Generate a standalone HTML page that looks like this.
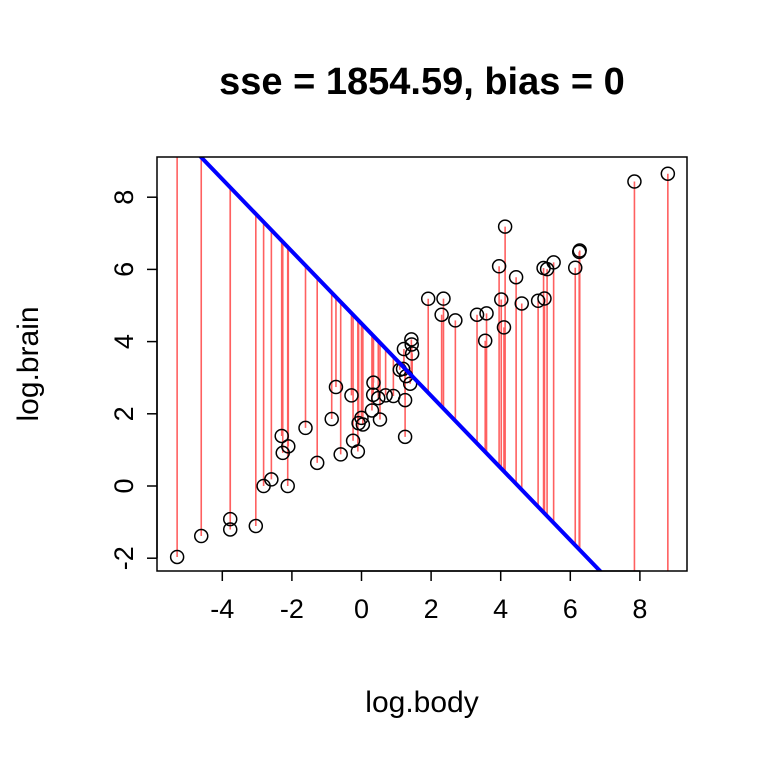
<!DOCTYPE html>
<html><head><meta charset="utf-8"><style>body{margin:0;background:#fff}svg{display:block}</style></head>
<body>
<svg id="c" width="768" height="768" xmlns="http://www.w3.org/2000/svg" font-family="Liberation Sans, sans-serif">
<defs><clipPath id="pc"><rect x="157" y="157" width="530" height="414"/></clipPath></defs>
<text x="422" y="94" text-anchor="middle" font-size="38" font-weight="bold">sse = 1854.59, bias = 0</text>
<g id="plot" clip-path="url(#pc)"></g>
<rect x="157" y="157" width="530" height="414" fill="none" stroke="#000" stroke-width="1.5"/>
<g id="axes"></g>
<text x="422" y="712" text-anchor="middle" font-size="30">log.body</text>
<text transform="translate(38,364) rotate(-90)" text-anchor="middle" font-size="30">log.brain</text>
</svg>
<script>
const logBody=[1.219,-0.734,0.300,6.142,3.593,3.320,2.697,0.039,1.433,-0.856,-2.293,-0.083,0,-5.298,-2.813,1.253,0.693,0.531,7.843,-3.772,5.232,6.256,-0.242,2.303,1.194,-1.609,0.344,6.271,5.333,4.443,-0.288,4.127,8.803,1.253,1.917,3.555,1.399,-2.120,-3.772,-4.605,0.336,5.521,0.916,4.016,4.605,3.954,2.356,-0.598,4.094,1.281,1.456,-1.273,-2.590,-2.104,-3.037,5.258,1.099,5.075,-0.105,0.482,-2.263,1.443];
const logBrain=[3.795,2.741,2.092,6.047,4.783,4.745,4.587,1.705,4.060,1.856,1.386,1.740,1.887,-1.966,0,2.380,2.510,1.841,8.434,-1.204,6.038,6.485,1.253,4.745,3.243,1.609,2.862,6.522,6.006,5.784,2.510,7.185,8.650,1.361,5.187,4.025,2.833,0,-0.916,-1.386,2.526,6.194,2.493,5.165,5.056,6.087,5.190,0.875,4.394,3.045,3.669,0.642,0.182,1.099,-1.109,5.193,3.219,5.130,0.956,2.434,0.916,3.920];
const intercept=4.5, slope=-1;
const xTicks=[-4,-2,0,2,4,6,8];
const yTicks=[-2,0,2,4,6,8];
const sx=v=>361.5+34.8*v, sy=v=>486-36.1*v;
const NS='http://www.w3.org/2000/svg';
function mk(t,a,p){const e=document.createElementNS(NS,t);for(const k in a)e.setAttribute(k,a[k]);p.appendChild(e);return e;}
const plot=document.getElementById('plot'), axes=document.getElementById('axes');
logBody.forEach((x,i)=>{const e=mk('line',{x1:sx(x),x2:sx(x),y1:sy(logBrain[i]),y2:sy(intercept+slope*x),stroke:'#ff6060','stroke-width':1.6},plot);

});
logBody.forEach((x,i)=>{const e=mk('circle',{cx:sx(x),cy:sy(logBrain[i]),r:6.5,fill:'none',stroke:'#000','stroke-width':1.5},plot);

});
const fl=mk('line',{x1:sx(-10),y1:sy(intercept+slope*-10),x2:sx(12),y2:sy(intercept+slope*12),stroke:'#0000ff','stroke-width':4},plot);


mk('line',{x1:sx(-4),x2:sx(8),y1:571,y2:571,stroke:'#000','stroke-width':1.5},axes);
xTicks.forEach(t=>{mk('line',{x1:sx(t),x2:sx(t),y1:571,y2:581,stroke:'#000','stroke-width':1.5},axes);
const e=mk('text',{x:sx(t),y:618,'text-anchor':'middle','font-size':27},axes);e.textContent=t;

});
mk('line',{x1:157,x2:157,y1:sy(-2),y2:sy(8),stroke:'#000','stroke-width':1.5},axes);
yTicks.forEach(t=>{mk('line',{x1:147,x2:157,y1:sy(t),y2:sy(t),stroke:'#000','stroke-width':1.5},axes);
const e=mk('text',{transform:`translate(133,${sy(t)}) rotate(-90)`,'text-anchor':'middle','font-size':27},axes);e.textContent=t;

});
</script>
</body></html>
